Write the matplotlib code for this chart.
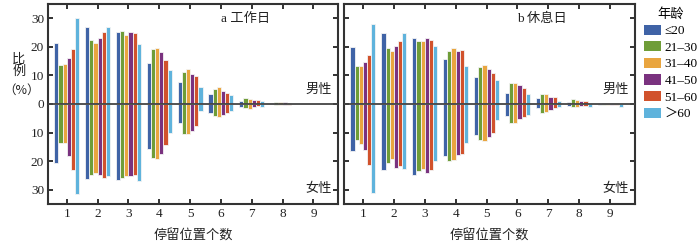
import matplotlib
matplotlib.use("Agg")
import matplotlib.pyplot as plt
from matplotlib.ticker import FuncFormatter
import numpy as np

plt.rcParams['font.family'] = ['Liberation Serif', 'Noto Sans CJK SC']
plt.rcParams['axes.unicode_minus'] = False

positions = [1, 2, 3, 4, 5, 6, 7, 8, 9]
ages      = ["≤20", "21–30", "31–40", "41–50", "51–60", "＞60"]
colors    = ["#3f63a6", "#6f9d38", "#e9a53f", "#7a327f", "#d1522c", "#5fb3dc"]

# a 工作日
work_male = [
    [21.5, 26.8, 25.1, 14.5, 7.8, 3.4, 1.0, 0.2, 0.1],
    [13.7, 22.4, 25.5, 19.2, 11.1, 5.2, 2.2, 0.7, 0.1],
    [13.9, 21.3, 24.3, 19.7, 12.4, 6.1, 1.9, 0.7, 0.1],
    [16.0, 23.2, 25.3, 18.2, 10.4, 4.4, 1.5, 0.8, 0.1],
    [19.2, 25.1, 24.8, 15.4, 9.7, 3.9, 1.3, 0.5, 0.1],
    [30.1, 26.8, 20.9, 11.8, 6.1, 3.0, 1.2, 0.1, 0.1],
]
work_female = [
    [20.8, 26.1, 26.5, 15.9, 6.5, 3.0, 0.9, 0.1, 0.1],
    [13.5, 24.7, 26.0, 18.9, 10.6, 4.3, 1.3, 0.2, 0.1],
    [13.6, 24.3, 25.3, 19.3, 10.6, 4.6, 1.6, 0.3, 0.1],
    [18.1, 24.7, 25.3, 17.4, 9.4, 3.7, 0.9, 0.2, 0.1],
    [23.1, 25.8, 25.0, 14.2, 7.7, 3.3, 0.7, 0.2, 0.1],
    [31.4, 25.3, 27.1, 10.1, 2.6, 2.4, 1.0, 0.1, 0.1],
]

# b 休息日
rest_male = [
    [19.8, 25.0, 23.1, 15.7, 9.4, 4.0, 2.2, 0.7, 0.1],
    [13.2, 19.6, 22.2, 18.5, 13.1, 7.4, 3.5, 1.6, 0.5],
    [13.2, 18.6, 22.2, 19.5, 13.8, 7.4, 3.4, 1.4, 0.5],
    [14.8, 20.4, 23.0, 18.6, 12.4, 6.6, 2.6, 1.1, 0.5],
    [17.1, 22.0, 22.5, 18.8, 10.8, 5.5, 2.4, 0.9, 0.4],
    [27.9, 24.9, 20.4, 13.4, 8.3, 3.4, 1.2, 0.1, 0.1],
]
rest_female = [
    [16.4, 23.2, 24.7, 18.2, 10.7, 4.2, 1.5, 0.7, 0.2],
    [12.7, 20.7, 23.6, 20.0, 12.5, 6.5, 3.0, 0.9, 0.3],
    [14.1, 19.4, 22.9, 19.7, 12.9, 6.8, 2.8, 0.9, 0.3],
    [16.2, 22.3, 24.3, 17.9, 11.5, 5.4, 2.1, 0.8, 0.3],
    [21.3, 21.8, 23.0, 17.4, 10.1, 4.5, 1.3, 0.7, 0.2],
    [31.0, 22.7, 20.0, 13.6, 5.7, 3.8, 1.0, 0.9, 1.1],
]

fig = plt.figure(figsize=(7.0, 2.47), dpi=100)
ax_a = fig.add_axes([0.069, 0.174, 0.414, 0.81])
ax_b = fig.add_axes([0.492, 0.174, 0.415, 0.81])

step = 0.135
x = np.array(positions, dtype=float)

def draw_panel(ax, male, female, title, show_labels):
    for i in range(len(ages)):
        off = (i - 2.5) * step
        ax.bar(x + off, male[i], width=step, color=colors[i],
               edgecolor="#f4f4f4", linewidth=0.6, label=ages[i])
        ax.bar(x + off, -np.array(female[i]), width=step, color=colors[i],
               edgecolor="#f4f4f4", linewidth=0.6)
    ax.axhline(0, color="#444444", lw=1.3, zorder=5)
    ax.set_xlim(0.4, 9.8)
    ax.set_ylim(-35, 35)
    ax.set_xticks(positions)
    ax.set_yticks([-30, -20, -10, 0, 10, 20, 30])
    ax.yaxis.set_major_formatter(FuncFormatter(lambda v, p: "%d" % abs(v)))
    ax.tick_params(direction="in", length=3.5, width=1.3, top=True, right=True,
                   labelsize=9.5, colors="#222222", pad=3)
    if not show_labels:
        ax.set_yticklabels([])
    for s in ax.spines.values():
        s.set_linewidth(1.5)
        s.set_color("#333333")
    ax.text(0.68, 0.925, title, transform=ax.transAxes, ha="center", va="center",
            fontsize=9.5, color="#222222")
    ax.text(0.98, 0.57, "男性", transform=ax.transAxes, ha="right", va="center",
            fontsize=9.5, color="#222222")
    ax.text(0.98, 0.075, "女性", transform=ax.transAxes, ha="right", va="center",
            fontsize=9.5, color="#222222")
    ax.set_xlabel("停留位置个数", fontsize=9.5, color="#222222", labelpad=7)

draw_panel(ax_a, work_male, work_female, "a 工作日", True)
draw_panel(ax_b, rest_male, rest_female, "b 休息日", False)

fig.text(0.027, 0.757, "比", ha="center", va="center", fontsize=9.5, color="#222222")
fig.text(0.027, 0.709, "例", ha="center", va="center", fontsize=9.5, color="#222222")
fig.text(0.031, 0.636, "（%）", ha="center", va="center", fontsize=9,
         color="#222222", family=["Noto Sans CJK SC"])

handles, labels = ax_b.get_legend_handles_labels()
leg = fig.legend(handles, labels, title="年龄", loc="upper left",
                 bbox_to_anchor=(0.908, 1.0), frameon=False, fontsize=9.5,
                 title_fontsize=9.5, handlelength=1.3, handleheight=0.8,
                 handletextpad=0.3, labelspacing=0.3, borderaxespad=0.2)
for h in leg.legend_handles:
    h.set_edgecolor("none")

fig.savefig("out.png", dpi=100)
